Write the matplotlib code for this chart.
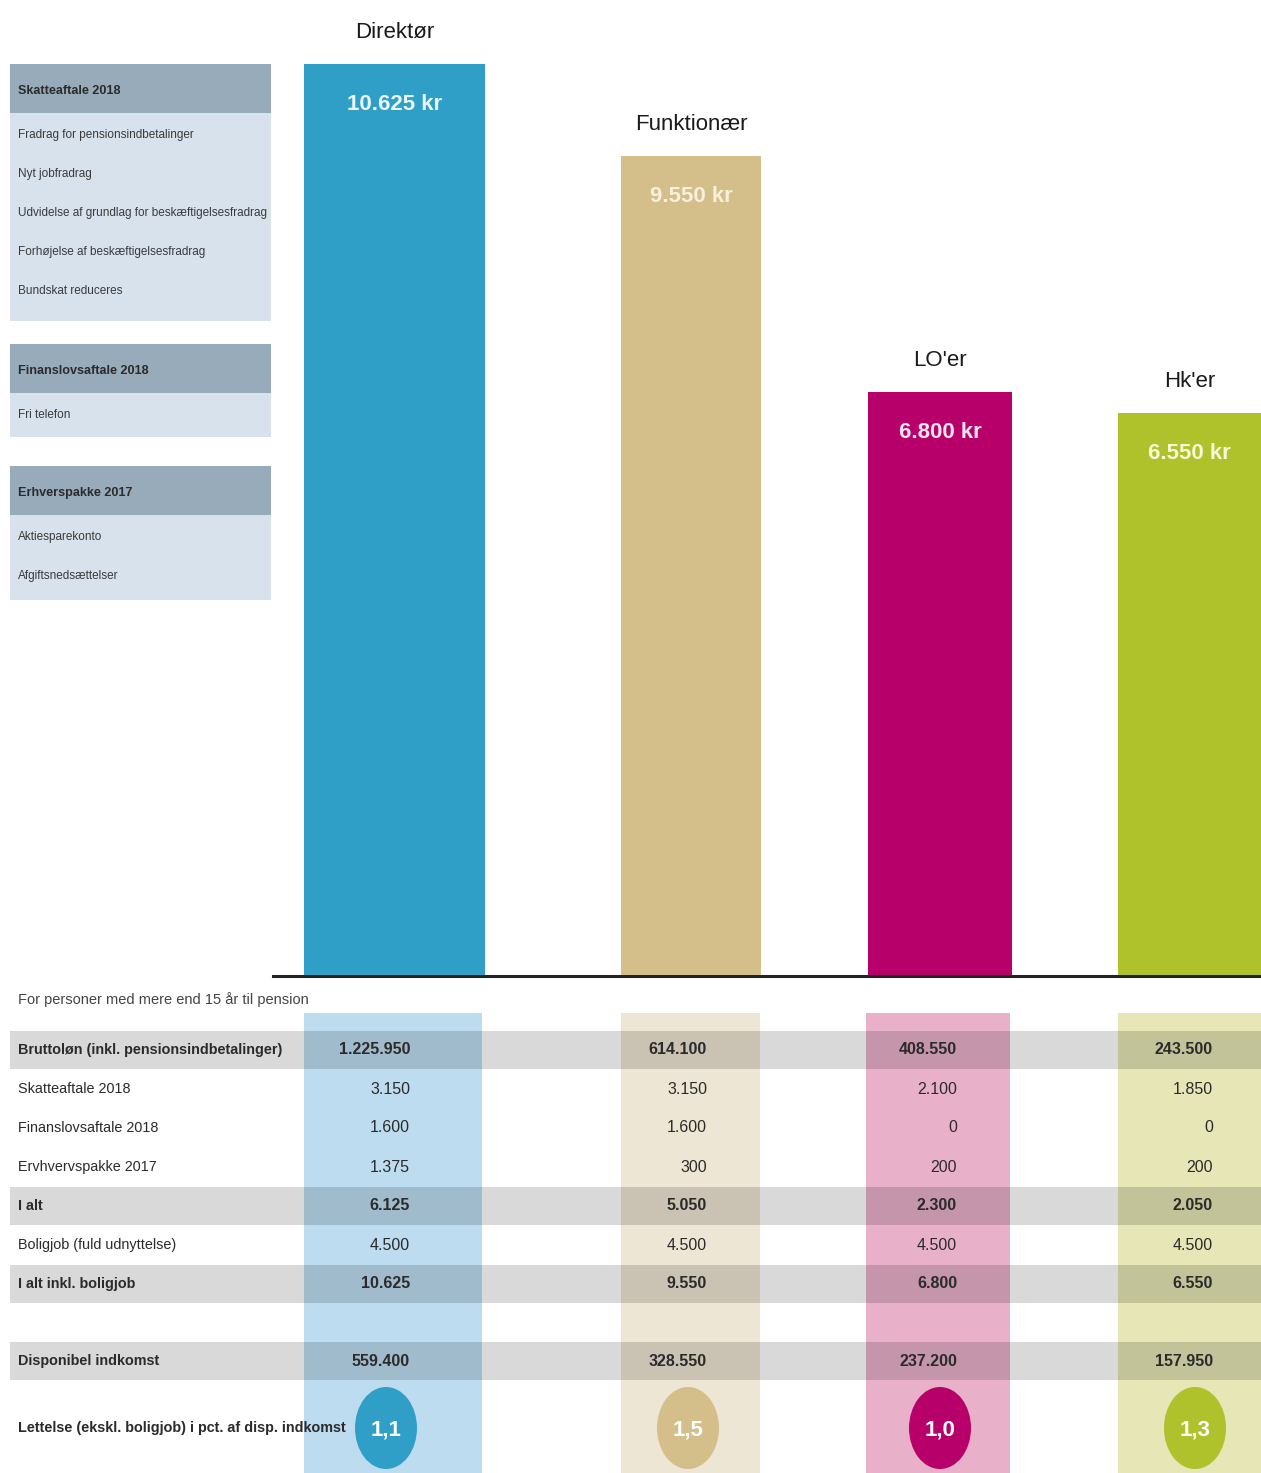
import matplotlib.pyplot as plt
from matplotlib.patches import Rectangle, Ellipse

# --- data ---
categories = ["Direktør", "Funktionær", "LO'er", "Hk'er"]
savings = [10625, 9550, 6800, 6550]

row_labels = [
    "Bruttoløn (inkl. pensionsindbetalinger)",
    "Skatteaftale 2018",
    "Finanslovsaftale 2018",
    "Ervhvervspakke 2017",
    "I alt",
    "Boligjob (fuld udnyttelse)",
    "I alt inkl. boligjob",
    "Disponibel indkomst",
]
direktor_vals = [1225950, 3150, 1600, 1375, 6125, 4500, 10625, 559400]
funktionaer_vals = [614100, 3150, 1600, 300, 5050, 4500, 9550, 328550]
lo_vals = [408550, 2100, 0, 200, 2300, 4500, 6800, 237200]
hk_vals = [243500, 1850, 0, 200, 2050, 4500, 6550, 157950]
relief_pct = [1.1, 1.5, 1.0, 1.3]
relief_label = "Lettelse (ekskl. boligjob) i pct. af disp. indkomst"
note = "For personer med mere end 15 år til pension"

box_titles = ["Skatteaftale 2018", "Finanslovsaftale 2018", "Erhverspakke 2017"]
box_items = [
    ["Fradrag for pensionsindbetalinger", "Nyt jobfradrag",
     "Udvidelse af grundlag for beskæftigelsesfradrag",
     "Forhøjelse af beskæftigelsesfradrag", "Bundskat reduceres"],
    ["Fri telefon"],
    ["Aktiesparekonto", "Afgiftsnedsættelser"],
]

# --- style ---
plt.rcParams["font.family"] = ["Liberation Sans", "DejaVu Sans"]

bar_colors = ["#2f9fc8", "#d4bf8b", "#b8006a", "#afc22b"]
col_bg = ["#bddcf0", "#eee6d4", "#e8b1c9", "#e6e6b6"]
label_colors = ["#eaf6fb", "#f8f0dc", "#fbe6f0", "#f6f8d8"]
bar_left = [304, 621, 868, 1118]
bar_width = [181, 140, 144, 143]
col_left = [304, 621, 866, 1118]
col_width = [178, 139, 144, 143]
val_right = [410, 707, 957, 1213]
circ_x = [386, 688, 940, 1195]
box_tops = [64, 344, 466]
box_body = [208, 44, 85]
txt = "#2b2b2b"

W, H = 1261, 1473
BASE = 975
fig = plt.figure(figsize=(W / 100, H / 100), dpi=100)
renderer = fig.canvas.get_renderer()


def shrink(texts, limits):
    # scale a group of texts by one factor so each fits its width limit
    f = min(1.0, min(lim / t.get_window_extent(renderer).width for t, lim in zip(texts, limits)))
    for t in texts:
        t.set_fontsize(t.get_fontsize() * f)


def fmt(v):
    return f"{v:,}".replace(",", ".")


bg = fig.add_axes([0, 0, 1, 1])
bg.set_xlim(0, W)
bg.set_ylim(H, 0)
bg.axis("off")

# left info boxes
heads, items_t = [], []
for top, bh, title, items in zip(box_tops, box_body, box_titles, box_items):
    bg.add_patch(Rectangle((10, top), 261, 49, color="#97abba", lw=0))
    bg.add_patch(Rectangle((10, top + 49), 261, bh, color="#d8e2ed", lw=0))
    heads.append(bg.text(18, top + 27, title, fontsize=12, fontweight="bold", color=txt, va="center"))
    for i, it in enumerate(items):
        items_t.append(bg.text(18, top + 71 + 39 * i, it, fontsize=12, color="#3a3a3a", va="center"))
shrink(items_t, [250] * len(items_t))
for h in heads:
    h.set_fontsize(items_t[0].get_fontsize() * 1.08)

# baseline
bg.plot([273, W], [BASE + 1, BASE + 1], color="#222222", lw=2.2, zorder=1)

# table
note_t = bg.text(18, 1000, note, fontsize=10.5, color="#444444", va="center")
for l, w, c in zip(col_left, col_width, col_bg):
    bg.add_patch(Rectangle((l, 1013), w, H - 1013, color=c, lw=0, zorder=0))

row_y = [1050, 1089, 1128, 1167, 1206, 1245, 1284, 1361]
bold_rows = [True, False, False, False, True, False, True, True]
columns = [direktor_vals, funktionaer_vals, lo_vals, hk_vals]

labels_t = []
for i, (lab, yy, b) in enumerate(zip(row_labels, row_y, bold_rows)):
    if b:
        bg.add_patch(Rectangle((10, yy - 19), W - 10, 38, color="black", alpha=0.15, lw=0, zorder=1))
    labels_t.append(bg.text(18, yy, lab, fontsize=12, color=txt, va="center",
                            fontweight="bold" if b else "normal", zorder=3))
    for col, xr in zip(columns, val_right):
        bg.text(xr, yy, fmt(col[i]), fontsize=11.5, color=txt, ha="right", va="center",
                fontweight="bold" if b else "normal", zorder=3)

labels_t.append(bg.text(18, 1428, relief_label, fontsize=12, fontweight="bold", color=txt,
                        va="center", zorder=3))
shrink(labels_t, [275] * len(row_labels) + [325])

for x, p, c in zip(circ_x, relief_pct, bar_colors):
    bg.add_patch(Ellipse((x, 1428), 62, 82, color=c, lw=0, zorder=2))
    bg.text(x, 1430, f"{p:.1f}".replace(".", ","), fontsize=16, fontweight="bold",
            color="white", ha="center", va="center", zorder=3)

# bars
ax = fig.add_axes([0, (H - BASE) / H, 1, BASE / H])
ax.set_xlim(0, W)
ax.set_ylim(0, savings[0] * BASE / (BASE - 64))
ax.axis("off")
ax.patch.set_alpha(0)
bars = ax.bar(bar_left, savings, width=bar_width, align="edge", color=bar_colors, zorder=2)
for b, cat, v, lc in zip(bars, categories, savings, label_colors):
    cx = b.get_x() + b.get_width() / 2
    ax.annotate(cat, (cx, v), xytext=(0, 23), textcoords="offset points",
                ha="center", va="center", fontsize=16, color="#1a1a1a")
    ax.annotate(fmt(v) + " kr", (cx, v), xytext=(0, -29), textcoords="offset points",
                ha="center", va="center", fontsize=16, fontweight="bold", color=lc)

fig.savefig("out.png", dpi=100)
